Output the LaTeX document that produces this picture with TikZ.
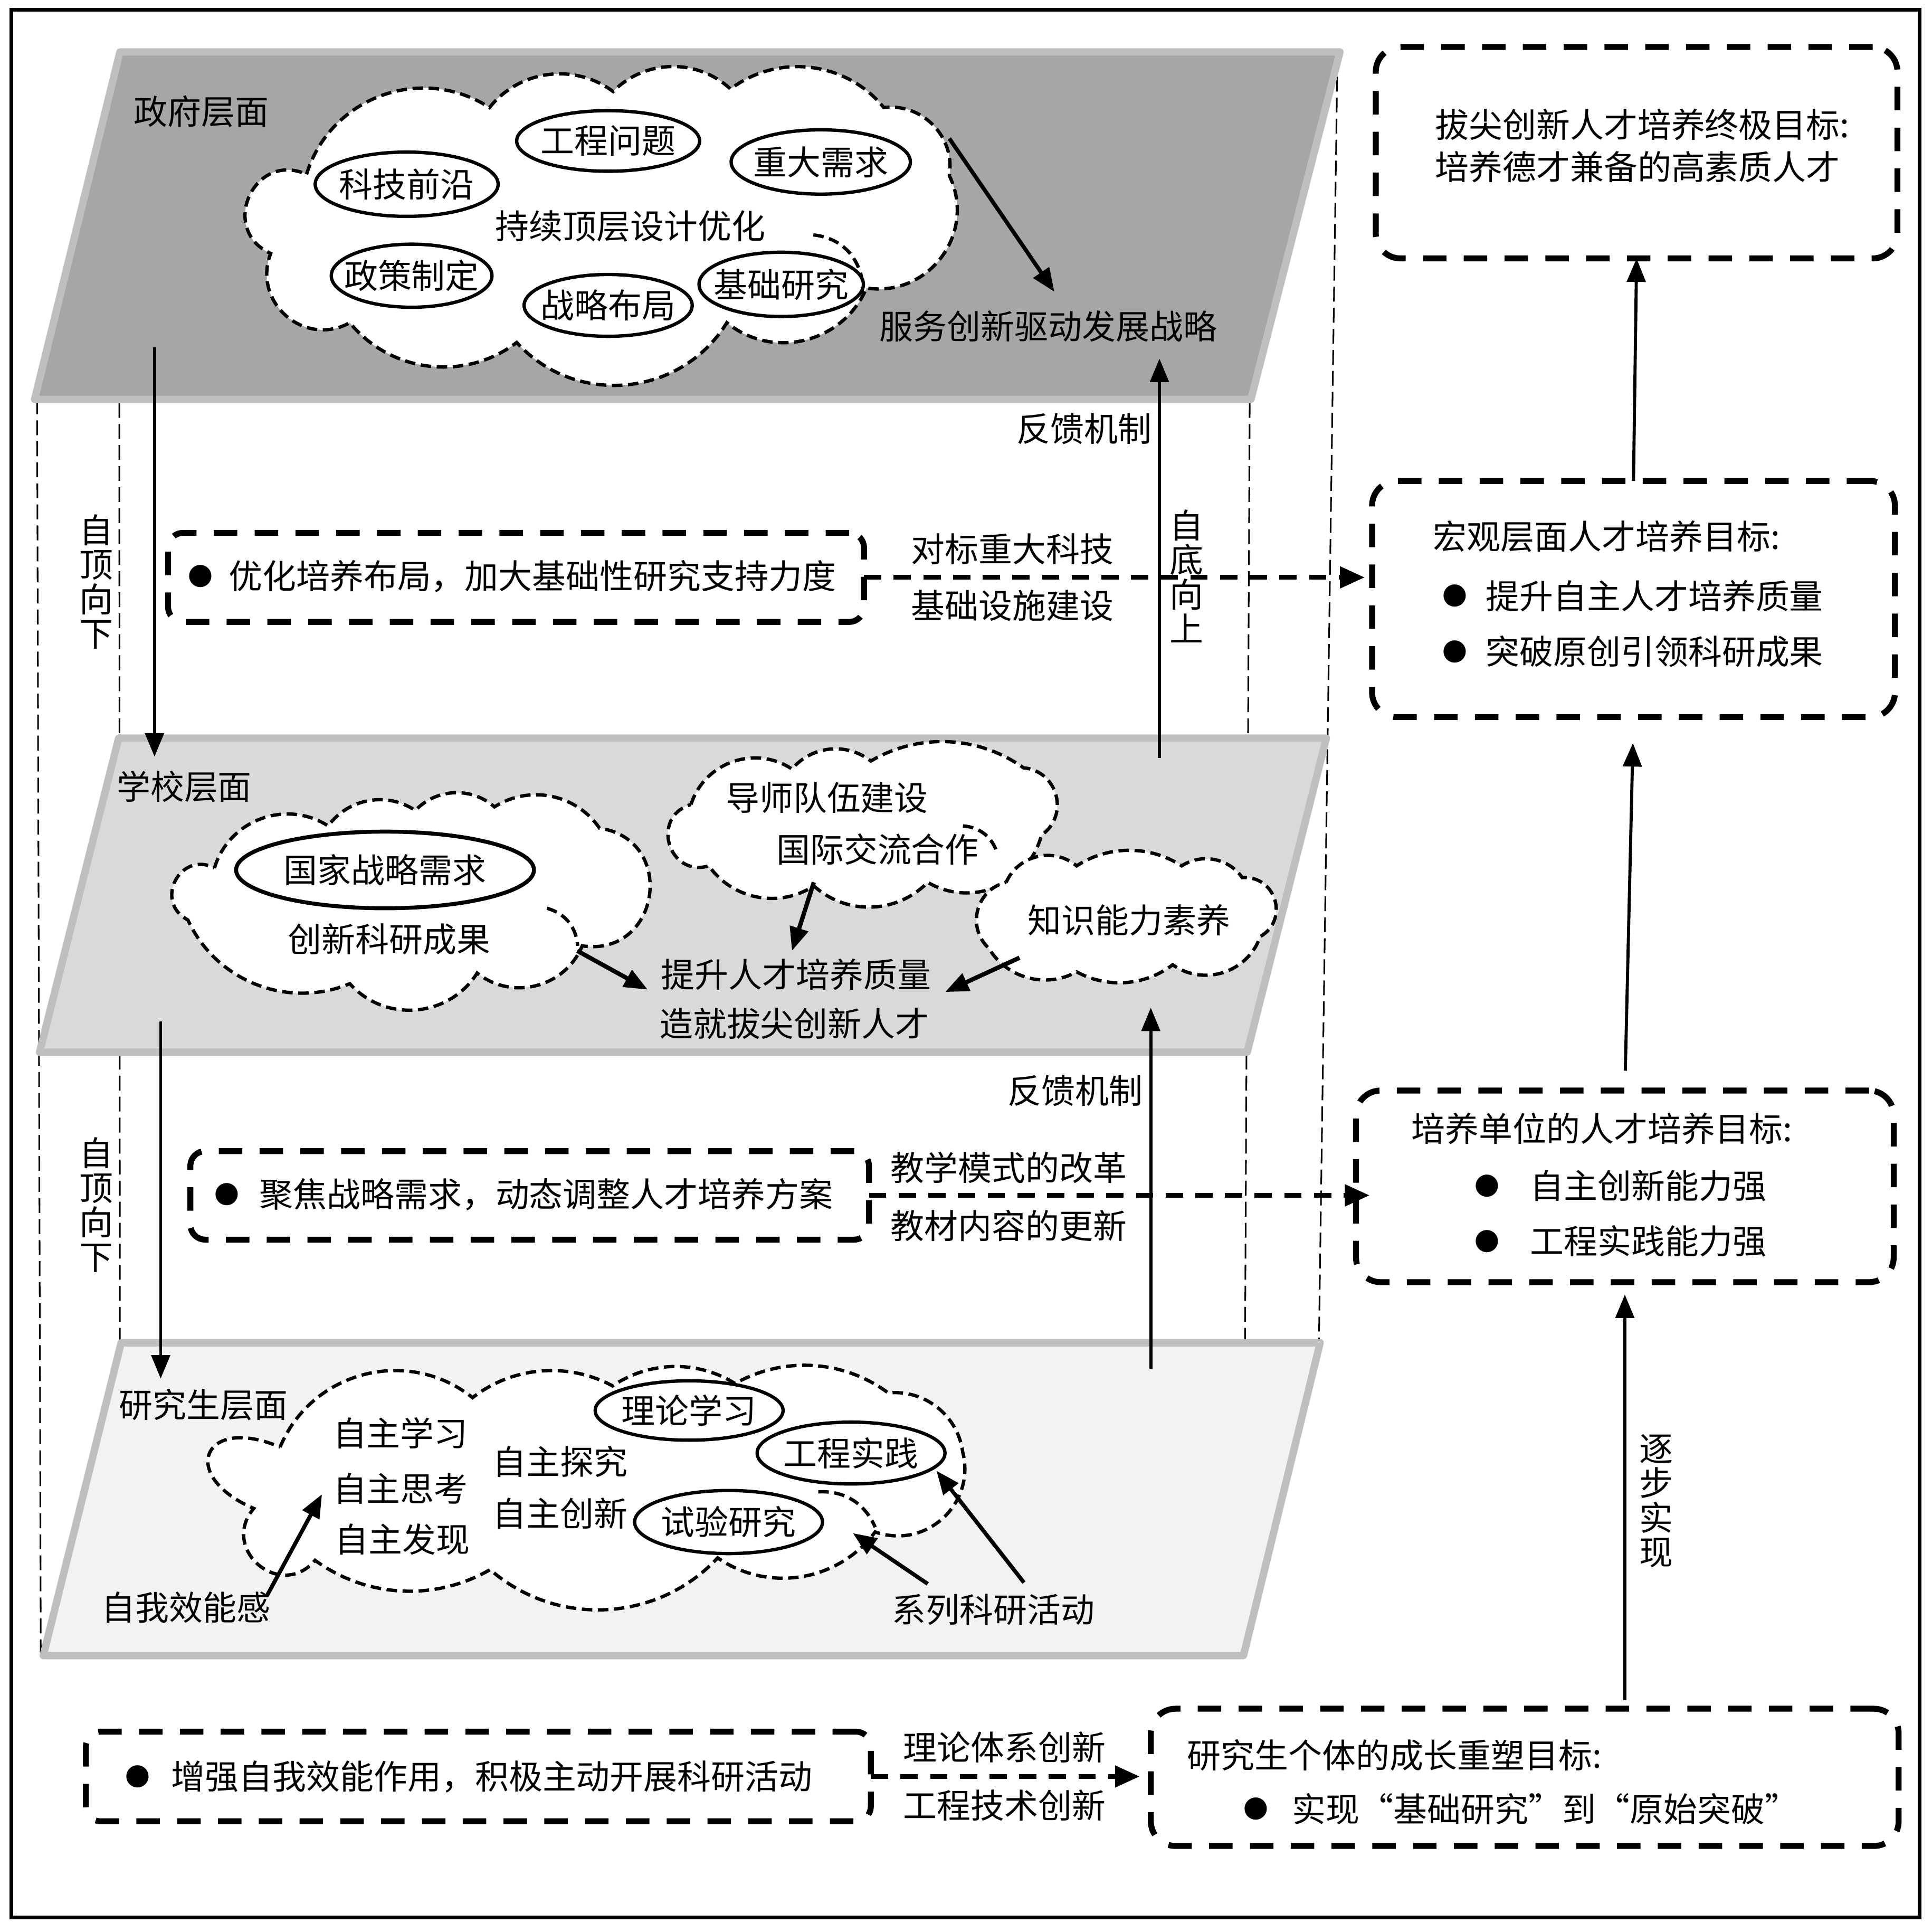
\documentclass[tikz,border=0pt]{standalone}
\usepackage{fontspec}
\setmainfont{Noto Sans CJK SC}
\usetikzlibrary{arrows.meta,shapes.geometric}
\definecolor{govfill}{HTML}{A6A6A6}
\definecolor{schfill}{HTML}{D9D9D9}
\definecolor{grdfill}{HTML}{F2F2F2}
\definecolor{planeedge}{HTML}{BFBFBF}
\begin{document}
\begin{tikzpicture}[x=1pt,y=-1pt,
  txt/.style={font=\fontsize{27.3pt}{34pt}\selectfont, inner sep=0pt, outer sep=0pt},
  vtxt/.style={txt, align=center, font=\fontsize{27.3pt}{28pt}\selectfont},
  bul/.style={font=\fontsize{20pt}{20pt}\selectfont, inner sep=0pt, outer sep=0pt},
  ell/.style={ellipse, draw, line width=2.7pt, fill=white, txt},
  cl/.style={draw, fill=white, line width=2.7pt, dash pattern=on 8.5pt off 4.5pt},
  cli/.style={draw, line width=2.7pt, dash pattern=on 8.5pt off 4.5pt},
  plane/.style={draw=planeedge, line width=6pt, line join=round},
  vdash/.style={line width=1.3pt, dash pattern=on 12pt off 5pt},
  arr/.style={line width=2.5pt, -{Triangle[length=19pt,width=15pt]}},
  arrc/.style={line width=3.2pt, -{Triangle[length=19pt,width=15pt]}},
  darr/.style={line width=3.8pt, dash pattern=on 14pt off 10pt, -{Triangle[length=20pt,width=17pt]}},
  gbox/.style={rectangle, draw, line width=4.8pt, dash pattern=on 19pt off 14pt, rounded corners=20pt, inner sep=0pt, outer sep=0pt},
  lbox/.style={gbox, rounded corners=12pt},
  pS/.style={bend left=33, looseness=0.93},
  pA/.style={bend left=44, looseness=0.99},
  pB/.style={bend left=53, looseness=1.06},
  pC/.style={bend left=62, looseness=1.16},
  pD/.style={bend left=70, looseness=1.27},
  pE/.style={bend left=77, looseness=1.4},
  pF/.style={bend left=90, looseness=1.7},
  pG/.style={bend left=90, looseness=3.2}
]
\useasboundingbox (0,0) rectangle (1563,1555.3);
% outer frame
\draw[line width=3pt] (9,8) rectangle (1553,1551);

% vertical dashed frame lines
\draw[vdash] (30,323) -- (33,1340);
\draw[vdash] (96.5,326) -- (97,1087);
\draw[vdash] (1082,45) -- (1067,1086);
\draw[vdash] (1011,326) -- (1006,1339);

% planes
\draw[plane, fill=govfill] (97,42) -- (1084,42) -- (1012,323) -- (28,323) -- cycle;
\draw[plane, fill=schfill] (96,597) -- (1073,597) -- (1009,851) -- (32,851) -- cycle;
\draw[plane, fill=grdfill] (98,1086) -- (1068,1086) -- (1006,1339) -- (35,1339) -- cycle;

% clouds
\draw[cl] (248,141) to[pB] (396,87) to[pA] (496,74) to[pA] (591,72) to[pA] (715,87)
  to[pB] (768,142) to[pC] (701,233) to[pB] (588,261) to[pB] (418,277) to[pA] (283,261)
  to[pD] (219,205) to[pF] (248,141) -- cycle;
\draw[cli] (658,190) to[bend left=35] (697,224);

\draw[cl] (173.5,702) to[pB] (265.5,668) to[pA] (336,655.5) to[pA] (400,652.6) to[pA] (485,669.8)
  to[pF] (471,765) to[pB] (386,787) to[pB] (283,795.6) to[pA] (152,744) to[pF] (173.5,702) -- cycle;
\draw[cli] (442.5,734.6) to[bend left=35] (467.3,765);

\draw[cl] (559,650.7) to[pB] (640.7,622) to[pA] (704.5,615.5) to[pS] (828,621) to[pD] (842.5,675.5)
  to[pB] (750.5,713.6) to[pA] (658.4,716.5) to[pA] (573.5,700.3) to[pF] (559,650.7) -- cycle;
\draw[cli] (779,668) to[bend left=35] (807,691);

\draw[cl] (814,713.6) to[pB] (871,700.3) to[pS] (956,700.3) to[pA] (1005,709.8) to[pE] (1019.5,757.5)
  to[pB] (948.7,780.3) to[pS] (871,786) to[pA] (800,767) to[pC] (814,713.6) -- cycle;

\draw[cl] (226.6,1170.4) to[pB] (382.3,1130.4) to[pS] (495.6,1120.9) to[pS] (594.7,1119) to[pS] (718.6,1126.6)
  to[pA] (778.8,1174.2) to[pC] (708,1239) to[pA] (580.6,1260) to[pA] (396.5,1269.5) to[pS] (254.9,1262)
  to[pF] (205.3,1220) to[pG] (226.6,1170.4) -- cycle;
\draw[cli] (662,1206.6) to[bend left=35] (708,1235.2);

% government level
\node[txt] (lgov) at (163,90) {政府层面};
\node[ell, minimum width=148pt, minimum height=49pt] (eGC) at (492,114) {\makebox[0pt]{工程问题}};
\node[ell, minimum width=145pt, minimum height=52pt] (eZD) at (664,131) {\makebox[0pt]{重大需求}};
\node[ell, minimum width=148pt, minimum height=52pt] (eKJ) at (329,149) {\makebox[0pt]{科技前沿}};
\node[ell, minimum width=130pt, minimum height=51pt] (eZC) at (333,223) {\makebox[0pt]{政策制定}};
\node[ell, minimum width=136pt, minimum height=50pt] (eZL) at (492,247) {\makebox[0pt]{战略布局}};
\node[ell, minimum width=133pt, minimum height=52pt] (eJC) at (632,230) {\makebox[0pt]{基础研究}};
\node[txt] (tgovc) at (510,183) {持续顶层设计优化};
\node[txt] (tstrat) at (848,264) {服务创新驱动发展战略};

% school level
\node[txt] (lsch) at (149,636) {学校层面};
\node[ell, line width=3.2pt, minimum width=241pt, minimum height=62pt] (eGJ) at (311.5,703.6) {\makebox[0pt]{国家战略需求}};
\node[txt] (tcx) at (315,759.5) {创新科研成果};
\node[txt] (tds) at (669,645) {导师队伍建设};
\node[txt] (tgj) at (710,687) {国际交流合作};
\node[txt] (tzs) at (913.5,744) {知识能力素养};
\node[txt] (tts) at (644,788) {提升人才培养质量};
\node[txt] (tzj) at (642.5,828) {造就拔尖创新人才};

% graduate level
\node[txt] (lgrd) at (164.6,1136) {研究生层面};
\node[txt] (tzx) at (324,1159) {自主学习};
\node[txt] (tzk) at (324,1204) {自主思考};
\node[txt] (tzf) at (325.6,1245) {自主发现};
\node[txt] (tzt) at (453,1182) {自主探究};
\node[txt] (tzc) at (453,1224) {自主创新};
\node[ell, minimum width=152pt, minimum height=48pt] (eLL) at (557.5,1140.8) {\makebox[0pt]{理论学习}};
\node[ell, minimum width=152pt, minimum height=50pt] (eGS) at (688.5,1175.2) {\makebox[0pt]{工程实践}};
\node[ell, minimum width=152pt, minimum height=51pt] (eSY) at (589.4,1231) {\makebox[0pt]{试验研究}};
\node[txt] (tzw) at (150.5,1300) {自我效能感};
\node[txt] (tkx) at (803.6,1302) {系列科研活动};

% side labels
\node[vtxt] (vtd1) at (78,470.5) {自\\顶\\向\\下};
\node[vtxt] (vtd2) at (78,974.5) {自\\顶\\向\\下};
\node[vtxt] (vbu) at (960,466) {自\\底\\向\\上};
\node[vtxt] (vzb) at (1340,1214) {逐\\步\\实\\现};
\node[txt] (fk1) at (877,347) {反馈机制};
\node[txt] (fk2) at (870,882) {反馈机制};
\node[txt] (ldb1) at (819,444) {对标重大科技};
\node[txt] (ldb2) at (819,489.6) {基础设施建设};
\node[txt] (ljx1) at (816,944.4) {教学模式的改革};
\node[txt] (ljx2) at (816,991.3) {教材内容的更新};
\node[txt] (llt1) at (812.5,1413.3) {理论体系创新};
\node[txt] (llt2) at (812.5,1460.3) {工程技术创新};

% arrow end points
\coordinate (ga1) at (768,112);   \coordinate (ga2) at (853,236);
\coordinate (td1a) at (125,281);  \coordinate (td1b) at (125,612);
\coordinate (td2a) at (130,826);  \coordinate (td2b) at (130,1115);
\coordinate (bu1a) at (938,613);  \coordinate (bu1b) at (938,290);
\coordinate (bu2a) at (931,1107); \coordinate (bu2b) at (931,815);
\coordinate (sa1) at (467,769);   \coordinate (sa1e) at (524,800.4);
\coordinate (sa2) at (658.4,713.6); \coordinate (sa2e) at (640.7,769);
\coordinate (sa3) at (824.8,774.6); \coordinate (sa3e) at (764.6,802.3);
\coordinate (ra1) at (216,1290.5); \coordinate (ra1e) at (260.5,1208.5);
\coordinate (ra2) at (750.5,1281); \coordinate (ra2e) at (690,1240);
\coordinate (ra3) at (828.4,1280); \coordinate (ra3e) at (757.6,1189.5);

\draw[arrc] (ga1) -- (ga2);
\draw[arr] (td1a) -- (td1b);
\draw[arr] (td2a) -- (td2b);
\draw[arr] (bu1a) -- (bu1b);
\draw[arr] (bu2a) -- (bu2b);
\draw[arrc, line width=3.5pt] (sa1) -- (sa1e);
\draw[arrc, line width=3.5pt] (sa2) -- (sa2e);
\draw[arrc, line width=3.5pt] (sa3) -- (sa3e);
\draw[arrc] (ra1) -- (ra1e);
\draw[arrc] (ra2) -- (ra2e);
\draw[arrc] (ra3) -- (ra3e);

% left dashed boxes
\node[lbox, minimum width=563pt, minimum height=72pt] (boxA) at (417.5,467) {};
\node[bul] (bA) at (162,466) {●};
\node[txt, anchor=west] (tA) at (185,466) {优化培养布局，加大基础性研究支持力度};

\node[lbox, minimum width=549pt, minimum height=71.6pt] (boxB) at (428.5,966.8) {};
\node[bul] (bB) at (183.7,966) {●};
\node[txt, anchor=west] (tB) at (209.8,966) {聚焦战略需求，动态调整人才培养方案};

\node[lbox, minimum width=635pt, minimum height=72.5pt] (boxC) at (387,1436.8) {};
\node[bul] (bC) at (111.6,1437) {●};
\node[txt, anchor=west] (tC) at (138.6,1437) {增强自我效能作用，积极主动开展科研活动};

% right goal boxes
\node[gbox, minimum width=422pt, minimum height=171pt] (top) at (1324,123.5) {};
\node[txt, anchor=west] (top1) at (1161,101) {拔尖创新人才培养终极目标:};
\node[txt, anchor=west] (top2) at (1161,135) {培养德才兼备的高素质人才};

\node[gbox, minimum width=423pt, minimum height=191pt] (macro) at (1321.5,484.5) {};
\node[txt, anchor=west] (mac0) at (1159.5,434) {宏观层面人才培养目标:};
\node[bul] (bm1) at (1177,482) {●};
\node[txt, anchor=west] (mac1) at (1202,482) {提升自主人才培养质量};
\node[bul] (bm2) at (1177,527) {●};
\node[txt, anchor=west] (mac2) at (1202,527) {突破原创引领科研成果};

\node[gbox, minimum width=435pt, minimum height=155pt] (unit) at (1314.5,959.5) {};
\node[txt, anchor=west] (uni0) at (1142,913) {培养单位的人才培养目标:};
\node[bul] (bu1) at (1203,959) {●};
\node[txt, anchor=west] (uni1) at (1238,959) {自主创新能力强};
\node[bul] (bu2) at (1203,1004) {●};
\node[txt, anchor=west] (uni2) at (1238,1004) {工程实践能力强};

\node[gbox, minimum width=605pt, minimum height=111pt] (indiv) at (1233.5,1437.5) {};
\node[txt, anchor=west] (ind0) at (960.5,1419.5) {研究生个体的成长重塑目标:};
\node[bul] (bi1) at (1016,1463) {●};
\node[txt, anchor=west] (ind1) at (1045.5,1463) {实现“基础研究”到“原始突破”};

% connectors between goal boxes
\draw[arr] (macro.north) -- (top.south);
\draw[arr, shorten <=16pt, shorten >=21pt] (unit.north) -- (macro.south);
\draw[arr, shorten <=7pt, shorten >=10pt] (indiv.north -| unit.north) -- (unit.south);

% dashed connectors
\draw[darr, shorten >=6pt] (boxA.east) -- (boxA.east -| macro.west);
\draw[darr, shorten >=-11pt] (boxB.east) -- (boxB.east -| unit.west);
\draw[darr, shorten >=9pt] (boxC.east) -- (boxC.east -| indiv.west);
\end{tikzpicture}
\end{document}
